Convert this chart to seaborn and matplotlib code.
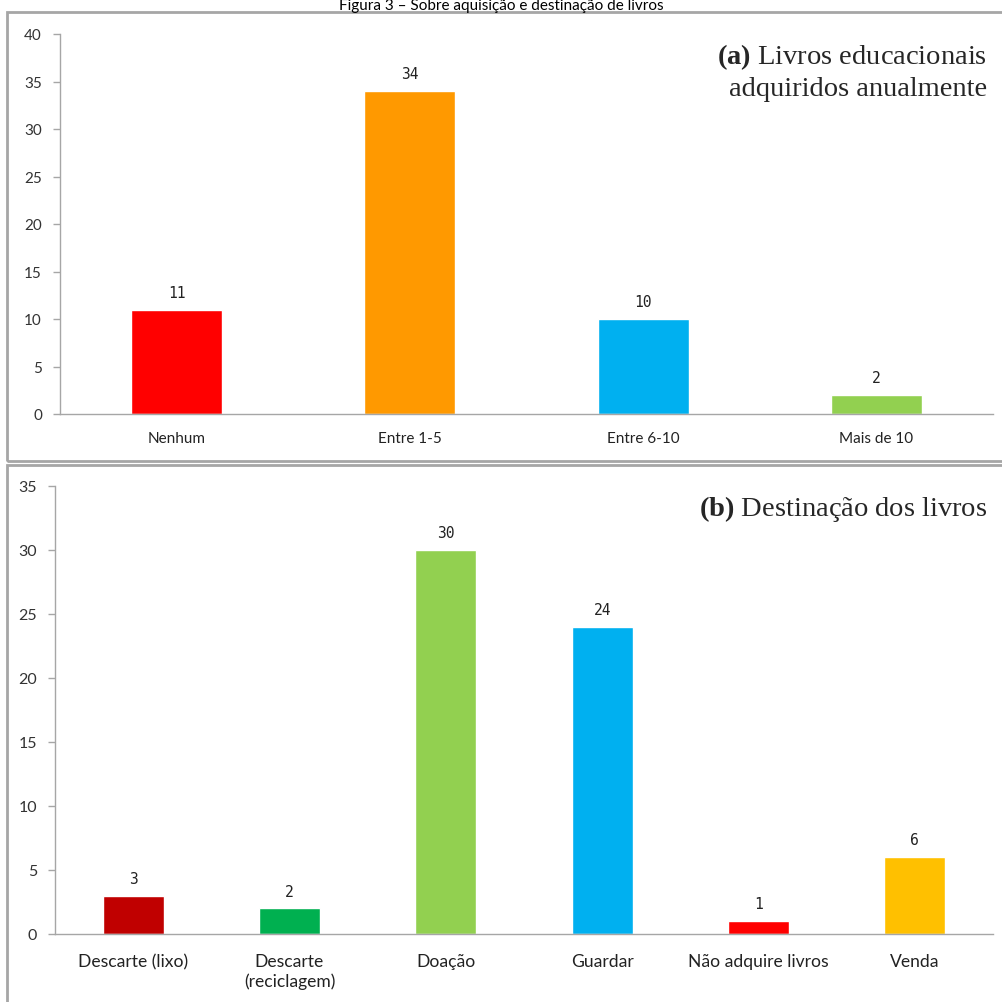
import matplotlib
matplotlib.use("Agg")
import matplotlib.pyplot as plt
from matplotlib.patches import Rectangle
import seaborn as sns

# Dados do painel (a)
cats_a = ["Nenhum", "Entre 1-5", "Entre 6-10", "Mais de 10"]
vals_a = [11, 34, 10, 2]
cores_a = ["#FF0000", "#FF9900", "#00B0F0", "#92D050"]

# Dados do painel (b)
cats_b = ["Descarte (lixo)", "Descarte\n(reciclagem)", "Doação", "Guardar",
          "Não adquire livros", "Venda"]
vals_b = [3, 2, 30, 24, 1, 6]
cores_b = ["#C00000", "#00B050", "#92D050", "#00B0F0", "#FF0000", "#FFC000"]

sns.set_style("white")
plt.rcParams["font.family"] = ["Lato", "DejaVu Sans"]
plt.rcParams["mathtext.fontset"] = "custom"
plt.rcParams["mathtext.rm"] = "Liberation Serif"
plt.rcParams["mathtext.bf"] = "Liberation Serif:bold"

W = 1003
fig = plt.figure(figsize=(W / 100, W / 100), dpi=100)


def px_axes(x0, y0, x1, y1):
    # caixa em pixels (origem no topo)
    return fig.add_axes([x0 / W, (W - y1) / W, (x1 - x0) / W, (y1 - y0) / W])


# molduras cinzentas dos painéis
fig.patches.append(Rectangle((7 / W, (W - 462) / W), 1.1, 449 / W, transform=fig.transFigure,
                             fill=False, edgecolor="#A6A6A6", lw=2))
fig.patches.append(Rectangle((7 / W, -0.1), 1.1, (W - 466) / W + 0.1, transform=fig.transFigure,
                             fill=False, edgecolor="#A6A6A6", lw=2))

# título no topo
fig.text(0.5, (W - 10) / W, "Figura 3 – Sobre aquisição e destinação de livros",
         ha="center", va="baseline", fontsize=11, color="black")


def painel(ax, cats, vals, cores, ymax, xsize, xpad, ysize):
    sns.barplot(x=cats, y=vals, hue=cats, palette=cores, legend=False, width=0.39,
                saturation=1, ax=ax)
    n = len(cats)
    ax.set_xlim(-0.5, n - 0.5)
    ax.set_ylim(0, ymax)
    ax.set_yticks(range(0, ymax + 1, 5))
    ax.set_xticks([i - 0.5 for i in range(n + 1)], minor=True)
    ax.tick_params(axis="x", which="major", length=0, pad=xpad, labelsize=xsize,
                   labelcolor="#222222")
    ax.tick_params(axis="x", which="minor", length=6, width=1, color="#A6A6A6")
    ax.tick_params(axis="y", length=5, width=1, color="#A6A6A6", pad=8, labelsize=ysize,
                   labelcolor="#333333", left=True)
    for s in ["top", "right"]:
        ax.spines[s].set_visible(False)
    for s in ["left", "bottom"]:
        ax.spines[s].set_color("#A6A6A6")
        ax.spines[s].set_linewidth(1)
    ax.set_xlabel("")
    ax.set_ylabel("")
    ax.patch.set_alpha(0)
    for c in ax.containers:
        ax.bar_label(c, padding=7, fontsize=10.5, family="DejaVu Sans Mono", color="#222222")


ax_a = px_axes(60, 35, 993, 415)
painel(ax_a, cats_a, vals_a, cores_a, 40, 11, 12.5, 11)
ax_a.text(0.994, 0.942, r"$\mathbf{(a)}$ Livros educacionais", transform=ax_a.transAxes,
          ha="right", va="center", fontsize=20.5, family="Liberation Serif")
ax_a.text(0.994, 0.856, "adquiridos anualmente", transform=ax_a.transAxes,
          ha="right", va="center", fontsize=20.5, family="Liberation Serif")

ax_b = px_axes(55, 487, 993, 935)
painel(ax_b, cats_b, vals_b, cores_b, 35, 12.6, 14, 11.5)
ax_b.text(0.994, 0.951, r"$\mathbf{(b)}$ Destinação dos livros", transform=ax_b.transAxes,
          ha="right", va="center", fontsize=20.5, family="Liberation Serif")

fig.savefig("out.png", dpi=100)
